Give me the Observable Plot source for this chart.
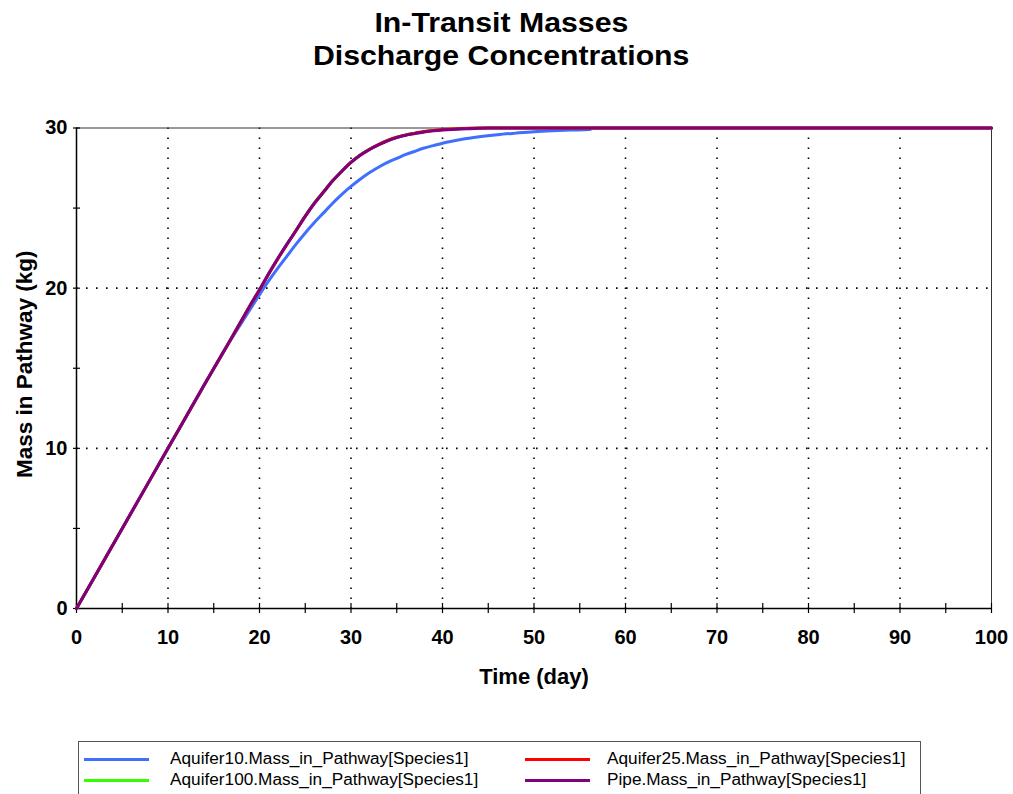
<!DOCTYPE html>
<html>
<head>
<meta charset="utf-8">
<script src="https://cdn.jsdelivr.net/npm/d3@7"></script>
<script src="https://cdn.jsdelivr.net/npm/@observablehq/plot@0.6"></script>
<style>
  body { margin: 0; background: #fff; font-family: "Liberation Sans", Arial, sans-serif; }
  .tl { position: absolute; left: -5px; width: 1013px; text-align: center; font-size: 27.5px; line-height: 27.5px; font-weight: bold; color: #000; }
  .tl span { display: inline-block; transform: scaleX(1.1); transform-origin: center; }
  #chart { position: absolute; left: 0; top: 90px; }
  #legend { position: absolute; left: 78px; top: 741px; width: 843px; height: 70px; border: 1px solid #555; box-sizing: border-box; }
  .sw { position: absolute; height: 3px; width: 65px; }
  .lt { position: absolute; font-size: 15.8px; line-height: 20px; white-space: nowrap; transform: scaleX(1.09); transform-origin: left center; color: #000; }
</style>
</head>
<body>
<div class="tl" style="top:8.8px"><span>In-Transit Masses</span></div>
<div class="tl" style="top:41.6px"><span>Discharge Concentrations</span></div>
<div id="chart"></div>
<div id="legend"></div>
<script>
// ---- Data ----
const seriesNames = [
  "Aquifer10.Mass_in_Pathway[Species1]",
  "Aquifer100.Mass_in_Pathway[Species1]",
  "Aquifer25.Mass_in_Pathway[Species1]",
  "Pipe.Mass_in_Pathway[Species1]"
];
const seriesColors = ["#3F6FFF", "#33FF00", "#FF0000", "#800080"];

const aquifer10Days = [0, 5, 10, 14, 16, 17, 18, 19, 20, 21, 22, 23, 24, 25, 26, 27, 28, 29, 30, 31, 32, 33, 34, 35, 36, 37, 38, 39, 40, 42, 44, 46, 48, 50, 52, 54, 56, 56.5, 100];
const aquifer10Mass = [0, 5, 10, 14, 15.95, 16.9, 17.8, 18.7, 19.6, 20.45, 21.25, 22.0, 22.75, 23.45, 24.1, 24.7, 25.3, 25.85, 26.35, 26.8, 27.2, 27.55, 27.85, 28.1, 28.35, 28.55, 28.75, 28.9, 29.05, 29.28, 29.45, 29.58, 29.68, 29.77, 29.83, 29.87, 29.9, 30, 30];

const pipeDays = [0, 5, 10, 14, 16, 17, 18, 19, 20, 21, 22, 23, 24, 25, 26, 27, 28, 29, 30, 31, 32, 33, 34, 35, 36, 37, 38, 39, 40, 41, 42, 43, 44, 45, 100];
const pipeMass = [0, 5, 10, 14, 15.97, 16.95, 17.95, 18.95, 19.9, 20.9, 21.85, 22.75, 23.6, 24.5, 25.3, 26.0, 26.7, 27.3, 27.85, 28.3, 28.65, 28.95, 29.2, 29.4, 29.55, 29.65, 29.75, 29.82, 29.87, 29.91, 29.94, 29.96, 29.98, 30, 30];

const aquifer100Days = [0, 5, 10, 14, 16, 17, 18, 19, 20, 21, 22, 23, 24, 25, 26, 27, 28, 29, 30, 31, 32, 33, 34, 35, 36, 37, 38, 39, 40, 41, 42, 43, 44, 45, 100];
const aquifer100Mass = [0, 5, 10, 14, 15.97, 16.95, 17.95, 18.95, 19.9, 20.9, 21.85, 22.75, 23.62, 24.5, 25.32, 26.02, 26.72, 27.32, 27.87, 28.32, 28.67, 28.97, 29.22, 29.42, 29.57, 29.67, 29.77, 29.84, 29.89, 29.93, 29.96, 29.98, 29.99, 30, 30];

const aquifer25Days = [0, 5, 10, 14, 16, 17, 18, 19, 20, 21, 22, 23, 24, 25, 26, 27, 28, 29, 30, 31, 32, 33, 34, 35, 36, 37, 38, 39, 40, 41, 42, 43, 44, 44.5, 100];
const aquifer25Mass = [0, 5, 10, 14, 15.96, 16.94, 17.93, 18.93, 19.88, 20.88, 21.83, 22.73, 23.6, 24.48, 25.3, 26.0, 26.7, 27.3, 27.85, 28.3, 28.66, 28.96, 29.22, 29.42, 29.57, 29.68, 29.78, 29.85, 29.9, 29.94, 29.97, 29.99, 30, 30, 30];

const xMajorTicks = [0, 10, 20, 30, 40, 50, 60, 70, 80, 90, 100];
const xMinorTicks = [5, 15, 25, 35, 45, 55, 65, 75, 85, 95];
const yMajorTicks = [0, 10, 20, 30];
const yMinorTicks = [5, 15, 25];
const xGrid = [10, 20, 30, 40, 50, 60, 70, 80, 90];
const yGrid = [10, 20];
const xTitle = "Time (day)";
const yTitle = "Mass in Pathway (kg)";

// ---- Build tidy rows ----
const seriesData = [
  [aquifer10Days, aquifer10Mass],
  [aquifer100Days, aquifer100Mass],
  [aquifer25Days, aquifer25Mass],
  [pipeDays, pipeMass]
];
const rows = [];
seriesData.forEach(([days, mass], i) => {
  days.forEach((d, j) => rows.push({series: seriesNames[i], day: d, mass: mass[j]}));
});

const font = "'Liberation Sans', Arial, sans-serif";

const chart = Plot.plot({
  width: 1013,
  height: 640,
  marginLeft: 76,
  marginRight: 22,
  marginTop: 37.5,
  marginBottom: 122,
  style: {fontFamily: font, background: "transparent", color: "#000", overflow: "visible"},
  x: {domain: [0, 100]},
  y: {domain: [0, 30]},
  color: {domain: seriesNames, range: seriesColors},
  marks: [
    Plot.gridX(xGrid, {stroke: "#000", strokeOpacity: 1, strokeWidth: 1.6, strokeDasharray: "1.6,8.4"}),
    Plot.gridY(yGrid, {stroke: "#000", strokeOpacity: 1, strokeWidth: 1.6, strokeDasharray: "1.6,8.4"}),
    Plot.frame({stroke: "#333", strokeWidth: 1}),
    Plot.axisX([...xMajorTicks, ...xMinorTicks], {tickSize: 10, dy: -5, text: null, label: null, strokeWidth: 1.2}),
    Plot.axisY([...yMajorTicks, ...yMinorTicks], {tickSize: 7, dx: 4, text: null, label: null, strokeWidth: 1.2}),
    Plot.axisX(xMajorTicks, {tickSize: 0, tickPadding: 21, label: null, fontSize: 20, fontWeight: "bold", tickFormat: d3.format("d")}),
    Plot.axisY(yMajorTicks, {tickSize: 0, tickPadding: 9, label: null, fontSize: 20, fontWeight: "bold", tickFormat: d3.format("d")}),
    Plot.ruleX([0], {stroke: "#000", strokeWidth: 1.5}),
    Plot.ruleY([0], {stroke: "#000", strokeWidth: 1.5}),
    Plot.line(rows, {x: "day", y: "mass", z: "series", stroke: "series", strokeWidth: 3, curve: "monotone-x"}),
    Plot.text([xTitle], {frameAnchor: "bottom", lineAnchor: "middle", textAnchor: "middle", dy: 68.5, fontSize: 22, fontWeight: "bold", fill: "#000"}),
    Plot.text([yTitle], {frameAnchor: "left", lineAnchor: "middle", textAnchor: "middle", dx: -52, dy: -4, rotate: -90, fontSize: 22.5, fontWeight: "bold", fill: "#000"})
  ]
});
document.getElementById("chart").appendChild(chart);

// ---- Legend (HTML) ----
const legend = document.getElementById("legend");
const legendOrder = [0, 2, 1, 3]; // row-major: row1 col1, row1 col2, row2 col1, row2 col2
const colSwatchX = [5, 446];
const colTextX = [91, 528];
const rowY = [17, 38];
legendOrder.forEach((si, k) => {
  const col = k % 2, row = Math.floor(k / 2);
  const sw = document.createElement("div");
  sw.className = "sw";
  sw.style.left = colSwatchX[col] + "px";
  sw.style.top = (rowY[row] - 1.5) + "px";
  sw.style.background = seriesColors[si];
  legend.appendChild(sw);
  const t = document.createElement("div");
  t.className = "lt";
  t.style.left = colTextX[col] + "px";
  t.style.top = (rowY[row] - 10) + "px";
  t.textContent = seriesNames[si];
  legend.appendChild(t);
});
</script>
</body>
</html>
